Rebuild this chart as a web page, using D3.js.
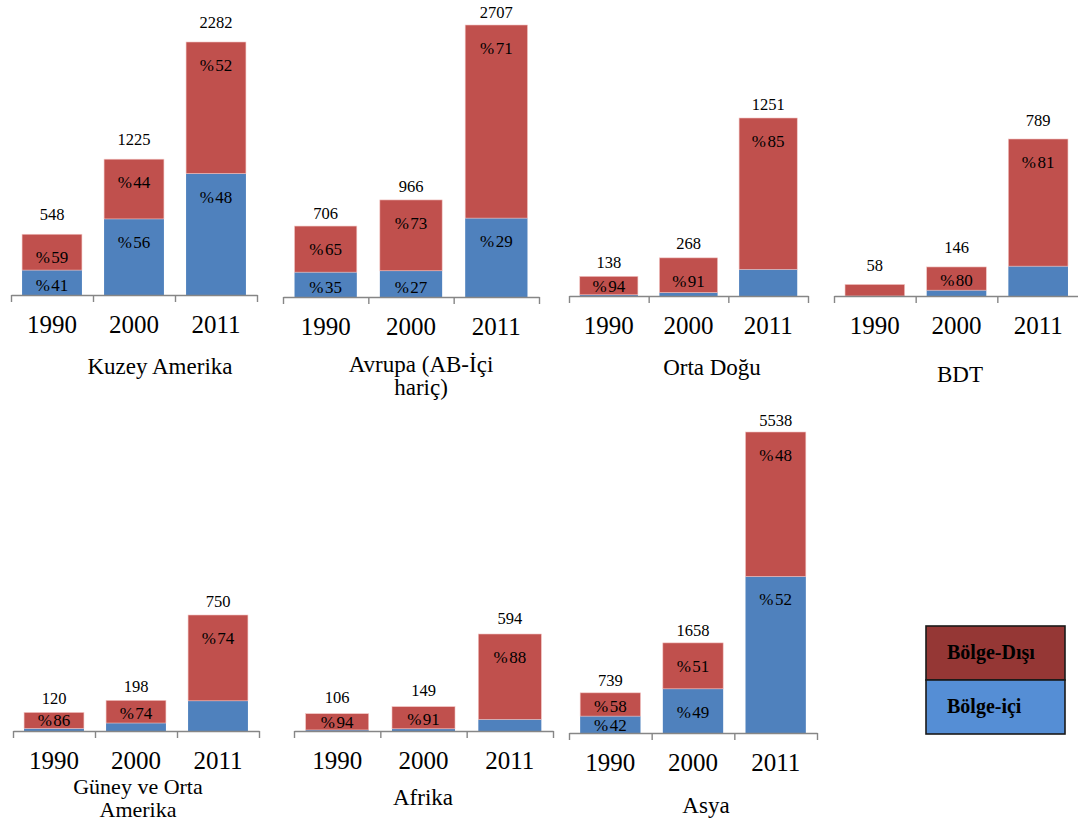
<!DOCTYPE html>
<html>
<head>
<meta charset="utf-8">
<script src="https://cdn.jsdelivr.net/npm/d3@7"></script>
<style>
  html, body { margin: 0; padding: 0; background: #fff; }
  svg { display: block; }
  text { font-family: "Liberation Serif", "Times New Roman", serif; fill: #000; }
</style>
</head>
<body>
<svg id="chart" width="1078" height="821"></svg>
<script>
// Bölgelere göre ticaret hacmi: bölge-içi ve bölge-dışı paylar
const regionTitles = [
  ["Kuzey Amerika"],
  ["Avrupa (AB-İçi", "hariç)"],
  ["Orta Doğu"],
  ["BDT"],
  ["Güney ve Orta", "Amerika"],
  ["Afrika"],
  ["Asya"]
];
const years = ["1990", "2000", "2011"];
const totals = [
  [548, 1225, 2282],
  [706, 966, 2707],
  [138, 268, 1251],
  [58, 146, 789],
  [120, 198, 750],
  [106, 149, 594],
  [739, 1658, 5538]
];
// Bölge-içi pay (%); bölge-dışı pay = 100 - bölge-içi
const intraShare = [
  [41, 56, 48],
  [35, 27, 29],
  [6, 9, 15],
  [0, 20, 19],
  [14, 26, 26],
  [6, 9, 12],
  [42, 49, 52]
];
// Hangi yüzde etiketleri yazılıyor
const showIntraLabel = [
  [true, true, true],
  [true, true, true],
  [false, false, false],
  [false, false, false],
  [false, false, false],
  [false, false, false],
  [true, true, true]
];
const showExtraLabel = [
  [true, true, true],
  [true, true, true],
  [true, true, true],
  [false, true, true],
  [true, true, true],
  [true, true, true],
  [true, true, true]
];
const seriesNames = ["Bölge-Dışı", "Bölge-içi"];

// Panel yerleşimi (piksel)
const panels = [
  { x0: 11,  x1: 257,  base: 295, top: 42,  gap: 20, tx: 160, ty: 366, lh: 23, fs: 23 },
  { x0: 283, x1: 539,  base: 297, top: 25,  gap: 13, tx: 421, ty: 364, lh: 23, fs: 23 },
  { x0: 569, x1: 808,  base: 296, top: 118, gap: 14, tx: 712, ty: 367, lh: 23, fs: 23 },
  { x0: 834, x1: 1079, base: 296, top: 139, gap: 19, tx: 960, ty: 374, lh: 23, fs: 23 },
  { x0: 13,  x1: 259,  base: 731, top: 615, gap: 14, tx: 138, ty: 786, lh: 23, fs: 22 },
  { x0: 294, x1: 553,  base: 731, top: 634, gap: 16, tx: 423, ty: 797, lh: 23, fs: 23 },
  { x0: 569, x1: 817,  base: 733, top: 432, gap: 12, tx: 706, ty: 805, lh: 23, fs: 23 }
];

const barColors = { intra: "#4F81BD", extra: "#C0504D" };
const legendColors = ["#953735", "#558ED5"];
const axisColor = "#868686";

const svg = d3.select("#chart");

// "%" işaretinden sonra küçük bir boşlukla yüzde yazımı
function pctText(sel, value) {
  sel.append("tspan").text("%");
  sel.append("tspan").attr("dx", 1.5).text(value);
}

panels.forEach((p, i) => {
  const g = svg.append("g");
  const x = d3.scaleBand().domain(years).range([p.x0, p.x1])
    .paddingInner(0.27).paddingOuter(0.135);
  const y = d3.scaleLinear().domain([0, d3.max(totals[i])]).range([p.base, p.top]);

  const rows = years.map((yr, j) => {
    const t = totals[i][j];
    const intra = t * intraShare[i][j] / 100;
    return {
      year: yr, total: t, intra: intra,
      intraPct: intraShare[i][j], extraPct: 100 - intraShare[i][j],
      showIntra: showIntraLabel[i][j], showExtra: showExtraLabel[i][j]
    };
  });

  // bölge-içi (alt) dilimler
  g.selectAll(".intra").data(rows).join("rect")
    .attr("x", d => x(d.year))
    .attr("width", x.bandwidth())
    .attr("y", d => y(d.intra))
    .attr("height", d => y(0) - y(d.intra))
    .attr("fill", barColors.intra);

  // bölge-dışı (üst) dilimler
  g.selectAll(".extra").data(rows).join("rect")
    .attr("x", d => x(d.year))
    .attr("width", x.bandwidth())
    .attr("y", d => y(d.total))
    .attr("height", d => y(d.intra) - y(d.total))
    .attr("fill", barColors.extra)
    .attr("stroke", "#f2c4c2").attr("stroke-width", 0.6);

  // yüzde etiketleri (dilimin üst ucuna yakın)
  const labelY = (top, bottom) => {
    const h = bottom - top;
    return top + Math.min(23, Math.max(h / 2, h - 10));
  };
  g.selectAll(".lblExtra").data(rows.filter(d => d.showExtra)).join("text")
    .attr("x", d => x(d.year) + x.bandwidth() / 2)
    .attr("y", d => labelY(y(d.total), y(d.intra)))
    .attr("text-anchor", "middle").attr("dominant-baseline", "central")
    .attr("font-size", 17)
    .each(function (d) { pctText(d3.select(this), d.extraPct); });
  g.selectAll(".lblIntra").data(rows.filter(d => d.showIntra)).join("text")
    .attr("x", d => x(d.year) + x.bandwidth() / 2)
    .attr("y", d => labelY(y(d.intra), y(0)))
    .attr("text-anchor", "middle").attr("dominant-baseline", "central")
    .attr("font-size", 17)
    .each(function (d) { pctText(d3.select(this), d.intraPct); });

  // toplam değerler
  g.selectAll(".total").data(rows).join("text")
    .attr("x", d => x(d.year) + x.bandwidth() / 2)
    .attr("y", d => y(d.total) - p.gap)
    .attr("text-anchor", "middle").attr("dominant-baseline", "central")
    .attr("font-size", 16.5)
    .text(d => d.total);

  // eksen çizgisi ve kategori sınırı çentikleri
  const edge = d3.scaleLinear().domain([0, years.length]).range([p.x0, p.x1]);
  const ax = g.append("g").attr("transform", `translate(0,${p.base})`)
    .call(d3.axisBottom(edge).tickValues(d3.range(years.length + 1))
      .tickFormat("").tickSize(7).tickSizeOuter(0));
  ax.selectAll("path, line").attr("stroke", axisColor).attr("stroke-width", 1.4);

  // yıl etiketleri
  const lab = g.append("g").attr("transform", `translate(0,${p.base})`)
    .call(d3.axisBottom(x).tickSize(0).tickPadding(0));
  lab.select(".domain").remove();
  lab.selectAll("text")
    .attr("y", 29).attr("dy", null)
    .attr("dominant-baseline", "central")
    .attr("font-size", 25)
    .attr("fill", "#000");

  // bölge başlığı
  const lines = regionTitles[i];
  g.append("text")
    .attr("text-anchor", "middle")
    .attr("font-size", p.fs)
    .selectAll("tspan").data(lines).join("tspan")
    .attr("x", p.tx)
    .attr("y", (d, k) => p.ty + k * p.lh)
    .attr("dominant-baseline", "central")
    .text(d => d);
});

// açıklama kutusu
const legend = svg.append("g").attr("transform", "translate(926,626)");
const cellH = 54, cellW = 139;
legend.selectAll("rect").data(seriesNames).join("rect")
  .attr("x", 0).attr("y", (d, k) => k * cellH)
  .attr("width", cellW).attr("height", cellH)
  .attr("fill", (d, k) => legendColors[k])
  .attr("stroke", "#1a1a1a").attr("stroke-width", 1.6);
legend.selectAll("text").data(seriesNames).join("text")
  .attr("x", 21).attr("y", (d, k) => k * cellH + 26)
  .attr("dominant-baseline", "central")
  .attr("font-size", 20).attr("font-weight", "bold")
  .text(d => d);
</script>
</body>
</html>
